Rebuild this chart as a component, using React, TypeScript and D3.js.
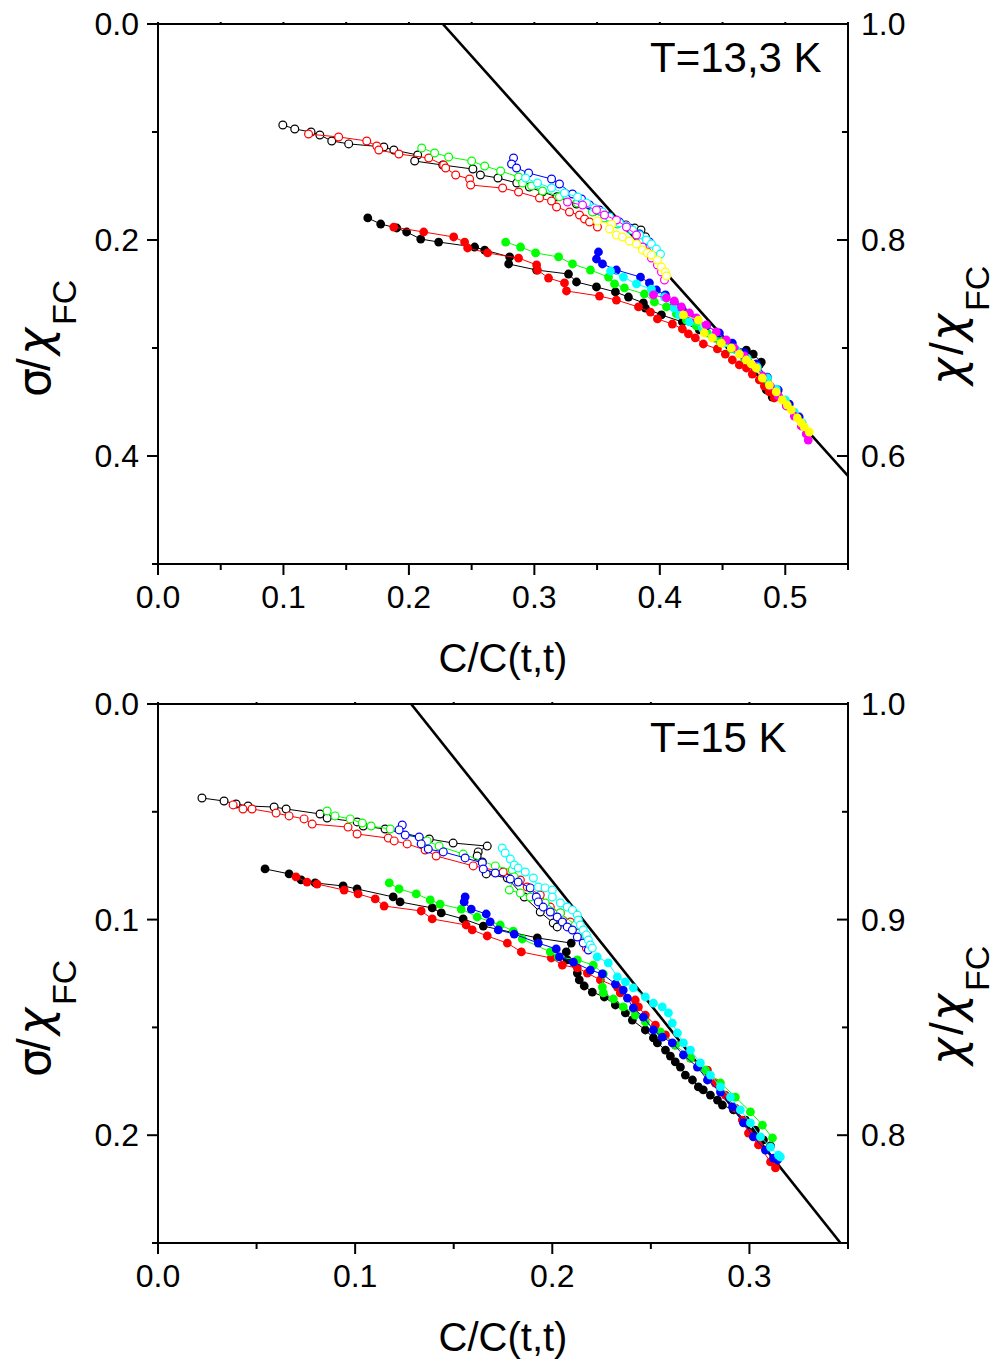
import React from 'react';
import * as d3 from 'd3';

type Pt = [number, number];

// ---------- Top panel (T=13,3 K) ----------
const topOpenBlack: Pt[] = [[0.0995,0.0935],[0.109,0.0972],[0.122,0.100],[0.129,0.1028],[0.1385,0.1083],[0.152,0.111],[0.180,0.1139],[0.188,0.1167],[0.207,0.1213],[0.2046,0.1269],[0.227,0.1306],[0.251,0.1343],[0.257,0.1398],[0.271,0.1426],[0.286,0.1472],[0.296,0.151],[0.3065,0.1556],[0.318,0.160],[0.3336,0.1667],[0.348,0.1731],[0.360,0.1778],[0.373,0.186],[0.380,0.189],[0.385,0.1907],[0.3885,0.197]];
const topOpenRed: Pt[] = [[0.120,0.1019],[0.144,0.1046],[0.1664,0.1083],[0.1744,0.113],[0.176,0.1167],[0.192,0.1204],[0.2158,0.1241],[0.2277,0.1306],[0.2293,0.1333],[0.2373,0.1398],[0.2484,0.1435],[0.2492,0.1491],[0.2747,0.1519],[0.2874,0.1556],[0.3041,0.1611],[0.3137,0.1639],[0.3177,0.1694],[0.328,0.1741],[0.336,0.1769],[0.340,0.1806],[0.344,0.1833],[0.3503,0.188]];
const topOpenGreen: Pt[] = [[0.2102,0.1148],[0.2205,0.1194],[0.2317,0.1231],[0.25,0.1269],[0.2604,0.1315],[0.2731,0.1361],[0.2874,0.1417],[0.2906,0.1472],[0.2978,0.15],[0.3065,0.1546],[0.320,0.160],[0.3344,0.1657],[0.3463,0.1741],[0.3559,0.1796],[0.3662,0.1852],[0.3758,0.1898],[0.3838,0.1944]];
const topOpenBlue: Pt[] = [[0.2834,0.1241],[0.2818,0.1296],[0.2858,0.1333],[0.2954,0.138],[0.3137,0.1435],[0.320,0.1481],[0.3304,0.1574],[0.3376,0.162],[0.344,0.1676],[0.3519,0.1722],[0.3599,0.1787],[0.3678,0.1833],[0.3758,0.1889],[0.3838,0.1944],[0.3917,0.2019]];
const topOpenCyan: Pt[] = [[0.293,0.1426],[0.3025,0.1472],[0.3137,0.1519],[0.324,0.1565],[0.3344,0.1602],[0.3416,0.1657],[0.3479,0.1704],[0.3543,0.1741],[0.3599,0.1787],[0.3678,0.1843],[0.3734,0.187],[0.3782,0.1907],[0.3838,0.1954],[0.3893,0.2],[0.3933,0.2037],[0.3973,0.2083],[0.4005,0.213]];
const topOpenMagenta: Pt[] = [[0.3264,0.1648],[0.3384,0.1676],[0.3495,0.1722],[0.3559,0.1769],[0.3654,0.1815],[0.3734,0.188],[0.3814,0.1954],[0.3861,0.2065],[0.3901,0.2111],[0.3933,0.2167],[0.3981,0.2231],[0.4013,0.2296],[0.4037,0.237]];
const topOpenYellow: Pt[] = [[0.3503,0.1824],[0.3615,0.1852],[0.3599,0.1898],[0.3654,0.1954],[0.3702,0.1972],[0.3758,0.2009],[0.3814,0.2037],[0.3861,0.2093],[0.3901,0.212],[0.3933,0.2139],[0.3981,0.2185],[0.4013,0.225],[0.4045,0.2296],[0.4053,0.2333]];

const topFilledBlack: Pt[] = [[0.1672,0.1796],[0.1775,0.1852],[0.1903,0.1889],[0.1982,0.1926],[0.2094,0.1991],[0.2237,0.2019],[0.2524,0.2065],[0.2604,0.2093],[0.2803,0.2157],[0.2795,0.2222],[0.3018,0.2278],[0.3272,0.2315],[0.3336,0.2389],[0.3495,0.2435],[0.3646,0.2481],[0.375,0.2528],[0.3869,0.2583],[0.3885,0.263],[0.4013,0.2694],[0.418,0.2759],[0.4315,0.2833],[0.4435,0.2907],[0.4554,0.2981],[0.469,0.3019],[0.4745,0.3056],[0.4809,0.313],[0.4793,0.3157],[0.4849,0.3389],[0.4896,0.3454]];
const topFilledRed: Pt[] = [[0.1879,0.188],[0.2118,0.1926],[0.2357,0.1972],[0.2444,0.2019],[0.2468,0.2074],[0.2627,0.212],[0.2874,0.2167],[0.3018,0.2231],[0.3025,0.2278],[0.3113,0.2352],[0.324,0.2398],[0.3256,0.2472],[0.3519,0.2519],[0.3654,0.2556],[0.383,0.262],[0.3925,0.2667],[0.3981,0.2731],[0.41,0.2778],[0.418,0.2824],[0.4228,0.287],[0.4283,0.2907],[0.4347,0.2963],[0.4459,0.3009],[0.4522,0.3056],[0.4578,0.3111],[0.4634,0.3157],[0.469,0.3185],[0.4737,0.3241],[0.4793,0.3296],[0.4833,0.3352],[0.4873,0.3407],[0.4912,0.3463]];
const topFilledGreen: Pt[] = [[0.2771,0.2019],[0.289,0.2065],[0.301,0.212],[0.3193,0.2157],[0.3304,0.2222],[0.3447,0.2278],[0.3591,0.2343],[0.3639,0.2407],[0.3718,0.2444],[0.3877,0.25],[0.3957,0.2574],[0.4053,0.262],[0.4132,0.2685],[0.4212,0.2741],[0.4291,0.2796],[0.4379,0.2861],[0.4475,0.2935],[0.457,0.3009],[0.4674,0.3093],[0.4769,0.3185],[0.4857,0.3296],[0.4936,0.3407],[0.5008,0.3509]];
const topFilledBlue: Pt[] = [[0.3511,0.2111],[0.3495,0.2176],[0.3543,0.2222],[0.3654,0.2278],[0.3846,0.2343],[0.3917,0.2398],[0.3973,0.2463],[0.4045,0.2509],[0.4116,0.2583],[0.418,0.2648],[0.426,0.2722],[0.4371,0.2796],[0.4475,0.2861],[0.4578,0.2954],[0.4674,0.3046],[0.4769,0.3148],[0.4857,0.3269],[0.4944,0.3389],[0.5032,0.3519],[0.5111,0.3639]];
const topFilledCyan: Pt[] = [[0.3607,0.2287],[0.371,0.2343],[0.3814,0.2407],[0.3933,0.2454],[0.4037,0.2528],[0.4116,0.263],[0.4156,0.2694],[0.4236,0.2759],[0.4339,0.2815],[0.4419,0.2898],[0.4514,0.2954],[0.461,0.3019],[0.4697,0.3093],[0.4777,0.3176],[0.4857,0.3278],[0.4928,0.338],[0.5,0.3481],[0.5072,0.3593],[0.5135,0.3694]];
const topFilledMagenta: Pt[] = [[0.3949,0.2509],[0.4053,0.2537],[0.4116,0.2565],[0.4172,0.262],[0.4236,0.2676],[0.4291,0.2722],[0.4371,0.2787],[0.4451,0.2852],[0.453,0.2926],[0.4594,0.3],[0.4674,0.3074],[0.4753,0.3167],[0.4817,0.3259],[0.4881,0.3352],[0.4944,0.3444],[0.5008,0.3537],[0.5072,0.363],[0.5127,0.3722],[0.5167,0.3796],[0.5183,0.3852]];
const topFilledYellow: Pt[] = [[0.4188,0.2694],[0.4307,0.2741],[0.4355,0.2861],[0.4419,0.2907],[0.449,0.2954],[0.457,0.3],[0.4634,0.3056],[0.469,0.3111],[0.4729,0.3148],[0.4769,0.3185],[0.4817,0.3278],[0.4873,0.3343],[0.4928,0.3407],[0.4976,0.3481],[0.5016,0.3528],[0.5048,0.3574],[0.5096,0.3648],[0.5127,0.3694],[0.5151,0.3731],[0.5191,0.3778]];

const topFdtLine: Pt[] = [[0.227,0],[0.55,0.4185]];

// ---------- Bottom panel (T=15 K) ----------
const botOpenBlack: Pt[] = [[0.0223,0.0436],[0.0335,0.045],[0.0396,0.0464],[0.0457,0.0473],[0.0589,0.0478],[0.065,0.0487],[0.0822,0.051],[0.0858,0.0529],[0.101,0.0547],[0.1041,0.0566],[0.1152,0.058],[0.1376,0.0626],[0.1497,0.0645],[0.167,0.0659],[0.1624,0.0686],[0.1619,0.0705],[0.1645,0.0733],[0.1665,0.0788],[0.1772,0.0807],[0.1858,0.0895],[0.1939,0.0965],[0.2005,0.1016],[0.2025,0.1034]];
const botOpenRed: Pt[] = [[0.0381,0.0468],[0.0431,0.0487],[0.0477,0.0487],[0.0599,0.0506],[0.0665,0.0519],[0.0741,0.0533],[0.0782,0.0557],[0.0964,0.0571],[0.101,0.0603],[0.1168,0.0622],[0.1198,0.0635],[0.1264,0.0649],[0.1355,0.0677],[0.1411,0.0705],[0.1599,0.0751],[0.1751,0.0779],[0.1838,0.0816],[0.1873,0.0849],[0.1939,0.0886],[0.199,0.0942],[0.2041,0.0969],[0.2091,0.1011],[0.2132,0.1062],[0.2157,0.1095],[0.2173,0.1132]];
const botOpenGreen: Pt[] = [[0.0858,0.0496],[0.0898,0.0519],[0.0975,0.0533],[0.1036,0.0552],[0.1081,0.0566],[0.1178,0.058],[0.1365,0.0635],[0.1426,0.0659],[0.1548,0.0696],[0.1711,0.0751],[0.1797,0.077],[0.1807,0.0802],[0.1782,0.0863],[0.1838,0.0877],[0.1888,0.0895],[0.1964,0.0923],[0.2041,0.0969],[0.2117,0.1025],[0.2168,0.1071]];
const botOpenBlue: Pt[] = [[0.1239,0.0561],[0.1223,0.0584],[0.1254,0.0608],[0.1325,0.0617],[0.1335,0.0649],[0.1371,0.0673],[0.1447,0.0686],[0.1558,0.0714],[0.1645,0.0737],[0.165,0.0765],[0.1711,0.0784],[0.1787,0.0812],[0.1827,0.0826],[0.1888,0.0853],[0.1919,0.0895],[0.1929,0.0918],[0.1954,0.0942],[0.199,0.0965],[0.2025,0.0988],[0.2051,0.1011],[0.2076,0.1034],[0.2102,0.1048],[0.2127,0.1081],[0.2157,0.1109],[0.2183,0.1141]];
const botOpenCyan: Pt[] = [[0.1746,0.0668],[0.1761,0.0691],[0.1787,0.0719],[0.1807,0.0747],[0.1827,0.0761],[0.1863,0.0779],[0.1904,0.0807],[0.1929,0.0849],[0.1964,0.0853],[0.2,0.0863],[0.2,0.0895],[0.2041,0.0923],[0.2076,0.0942],[0.2102,0.0955],[0.2127,0.0979],[0.2132,0.1002],[0.2142,0.1025],[0.2157,0.1048],[0.2173,0.1071],[0.2183,0.1095],[0.2193,0.1118],[0.2203,0.1132]];

const botFilledBlack: Pt[] = [[0.0543,0.0765],[0.0665,0.0788],[0.0726,0.0816],[0.0797,0.083],[0.0939,0.0844],[0.101,0.0858],[0.1193,0.0895],[0.1228,0.0918],[0.1391,0.0946],[0.1437,0.0969],[0.1548,0.0997],[0.165,0.103],[0.1924,0.1085],[0.2096,0.1109],[0.2071,0.115],[0.2076,0.1187],[0.2127,0.1248],[0.2137,0.128],[0.2162,0.1308],[0.2203,0.1336],[0.2264,0.1359],[0.232,0.1396],[0.2371,0.1433],[0.2406,0.1466],[0.2472,0.1512],[0.2513,0.1549],[0.2533,0.1572],[0.2574,0.1605],[0.2599,0.1633],[0.2624,0.166],[0.265,0.1684],[0.2675,0.1721],[0.2711,0.1744],[0.2741,0.1776],[0.2766,0.179],[0.2802,0.1814],[0.2838,0.1837],[0.2863,0.186],[0.2919,0.1883],[0.298,0.193],[0.303,0.1976],[0.3071,0.2022],[0.3107,0.205]];
const botFilledRed: Pt[] = [[0.07,0.0802],[0.0756,0.0826],[0.0807,0.0835],[0.0944,0.0863],[0.1015,0.0881],[0.1102,0.0904],[0.1147,0.0937],[0.1335,0.096],[0.1391,0.0997],[0.1563,0.1025],[0.1594,0.1048],[0.167,0.1076],[0.1772,0.1109],[0.1843,0.115],[0.1995,0.1178],[0.2051,0.1211],[0.2127,0.1224],[0.2178,0.1248],[0.2244,0.128],[0.233,0.1313],[0.2345,0.134],[0.2421,0.1373],[0.2437,0.1405],[0.2472,0.1443],[0.2523,0.1489],[0.2574,0.1535],[0.2624,0.1582],[0.2701,0.1642],[0.2787,0.1698],[0.2827,0.1758],[0.2878,0.1814],[0.2929,0.1874],[0.2964,0.193],[0.2995,0.199],[0.3046,0.2045],[0.3107,0.2124],[0.3132,0.2152]];
const botFilledGreen: Pt[] = [[0.1173,0.083],[0.1223,0.0858],[0.131,0.0881],[0.1381,0.0909],[0.1431,0.0928],[0.1538,0.0951],[0.1619,0.0988],[0.1736,0.1025],[0.1802,0.1053],[0.1848,0.109],[0.199,0.115],[0.203,0.1173],[0.2127,0.1187],[0.2208,0.1211],[0.2259,0.1252],[0.2254,0.1313],[0.2259,0.134],[0.231,0.1368],[0.236,0.1405],[0.2421,0.1443],[0.2472,0.1475],[0.2548,0.1521],[0.2624,0.1582],[0.2701,0.1642],[0.2777,0.1698],[0.2853,0.1758],[0.2929,0.1823],[0.3005,0.1892],[0.3066,0.1953],[0.3117,0.2013]];
const botFilledBlue: Pt[] = [[0.1558,0.0895],[0.1553,0.0918],[0.1589,0.0951],[0.1665,0.0974],[0.1685,0.1011],[0.1726,0.1048],[0.1807,0.1067],[0.1929,0.1109],[0.202,0.1136],[0.2036,0.1173],[0.2107,0.1197],[0.2193,0.1234],[0.2254,0.1252],[0.232,0.1299],[0.236,0.1327],[0.2381,0.1364],[0.2411,0.141],[0.2462,0.1452],[0.2513,0.1512],[0.2558,0.1545],[0.2609,0.1572],[0.2665,0.1628],[0.2736,0.1684],[0.2787,0.1744],[0.2853,0.18],[0.2914,0.1869],[0.297,0.1943],[0.302,0.2008],[0.3081,0.2069],[0.3122,0.2106],[0.3142,0.2115]];
const botFilledCyan: Pt[] = [[0.2228,0.1173],[0.2284,0.1201],[0.233,0.1266],[0.2371,0.1289],[0.2411,0.1317],[0.2472,0.1359],[0.2513,0.1387],[0.2558,0.1405],[0.2589,0.1433],[0.2609,0.148],[0.2635,0.1526],[0.2665,0.1572],[0.2701,0.1605],[0.2751,0.1665],[0.2802,0.1721],[0.2853,0.1776],[0.2904,0.1823],[0.2954,0.1883],[0.3005,0.1943],[0.3056,0.2008],[0.3107,0.2055],[0.3147,0.2092],[0.3157,0.2101]];

const botFdtLine: Pt[] = [[0.1284,0],[0.3462,0.25]];

// ---------- ticks & labels ----------
const topXMajor = [0, 0.1, 0.2, 0.3, 0.4, 0.5];
const topXMinor = [0.05, 0.15, 0.25, 0.35, 0.45, 0.55];
const topYMajor = [0, 0.2, 0.4];
const topYMinor = [0.1, 0.3, 0.5];
const topRMajor = [1.0, 0.8, 0.6];
const topRMinor = [0.9, 0.7, 0.5];
const botXMajor = [0, 0.1, 0.2, 0.3];
const botXMinor = [0.05, 0.15, 0.25, 0.35];
const botYMajor = [0, 0.1, 0.2];
const botYMinor = [0.05, 0.15, 0.25];
const botRMajor = [1.0, 0.9, 0.8];
const botRMinor = [0.95, 0.85, 0.75];

const topLabel = 'T=13,3 K';
const botLabel = 'T=15 K';
const xTitle = 'C/C(t,t)';

const C = { black: '#000000', red: '#ff0000', green: '#00ff00', blue: '#0000ff', cyan: '#00ffff', magenta: '#ff00ff', yellow: '#ffff00' };

const topSeries = [
  { d: topOpenBlack, c: C.black, f: false }, { d: topOpenRed, c: C.red, f: false },
  { d: topOpenGreen, c: C.green, f: false }, { d: topOpenBlue, c: C.blue, f: false },
  { d: topOpenCyan, c: C.cyan, f: false }, { d: topOpenMagenta, c: C.magenta, f: false },
  { d: topOpenYellow, c: C.yellow, f: false },
  { d: topFilledBlack, c: C.black, f: true }, { d: topFilledRed, c: C.red, f: true },
  { d: topFilledGreen, c: C.green, f: true }, { d: topFilledBlue, c: C.blue, f: true },
  { d: topFilledCyan, c: C.cyan, f: true }, { d: topFilledMagenta, c: C.magenta, f: true },
  { d: topFilledYellow, c: C.yellow, f: true },
];
const botSeries = [
  { d: botOpenBlack, c: C.black, f: false }, { d: botOpenRed, c: C.red, f: false },
  { d: botOpenGreen, c: C.green, f: false }, { d: botOpenBlue, c: C.blue, f: false },
  { d: botOpenCyan, c: C.cyan, f: false },
  { d: botFilledBlack, c: C.black, f: true }, { d: botFilledRed, c: C.red, f: true },
  { d: botFilledGreen, c: C.green, f: true }, { d: botFilledBlue, c: C.blue, f: true },
  { d: botFilledCyan, c: C.cyan, f: true },
];

const FONT = '"Liberation Sans", Arial, Helvetica, sans-serif';
const GREEK = '"DejaVu Sans", "Liberation Sans", sans-serif';
const fmt = d3.format('.1f');

type PanelCfg = {
  top: number; bottom: number; left: number; right: number;
  xDom: [number, number]; yDom: [number, number]; rDom: [number, number];
  xMajor: number[]; xMinor: number[]; yMajor: number[]; yMinor: number[];
  rMajor: number[]; rMinor: number[];
  series: { d: Pt[]; c: string; f: boolean }[];
  fdt: Pt[]; label: string;
};

function Panel({ cfg, id }: { cfg: PanelCfg; id: string }) {
  const x = d3.scaleLinear().domain(cfg.xDom).range([cfg.left, cfg.right]);
  const y = d3.scaleLinear().domain(cfg.yDom).range([cfg.top, cfg.bottom]);
  const r = d3.scaleLinear().domain(cfg.rDom).range([cfg.top, cfg.bottom]);
  const line = d3.line<Pt>().x((p) => x(p[0])).y((p) => y(p[1]));
  const MAJ = 11, MIN = 6, AW = 2;
  const tickFs = 32;
  return (
    <g>
      <defs>
        <clipPath id={id}>
          <rect x={cfg.left} y={cfg.top} width={cfg.right - cfg.left} height={cfg.bottom - cfg.top} />
        </clipPath>
      </defs>
      <g clipPath={`url(#${id})`}>
        <path d={line(cfg.fdt) || ''} stroke="#000" strokeWidth={2.6} fill="none" />
        {cfg.series.map((s, i) => (
          <g key={i}>
            <path d={line(s.d) || ''} stroke={s.c} strokeWidth={1} fill="none" />
            {s.d.map((p, j) => (
              <circle key={j} cx={x(p[0])} cy={y(p[1])} r={s.f ? 4.4 : 3.9}
                fill={s.f ? s.c : '#ffffff'} stroke={s.c} strokeWidth={s.f ? 0 : 1.2} />
            ))}
          </g>
        ))}
      </g>
      <g stroke="#000" strokeWidth={AW} strokeLinecap="square">
        <line x1={cfg.left} x2={cfg.right} y1={cfg.top} y2={cfg.top} />
        <line x1={cfg.left} x2={cfg.right} y1={cfg.bottom} y2={cfg.bottom} />
        <line x1={cfg.left} x2={cfg.left} y1={cfg.top} y2={cfg.bottom} />
        <line x1={cfg.right} x2={cfg.right} y1={cfg.top} y2={cfg.bottom} />
      </g>
      <g stroke="#000" strokeWidth={AW}>
        {cfg.xMajor.map((v) => <line key={'xM' + v} x1={x(v)} x2={x(v)} y1={cfg.bottom} y2={cfg.bottom + MAJ} />)}
        {cfg.xMinor.map((v) => <line key={'xm' + v} x1={x(v)} x2={x(v)} y1={cfg.bottom} y2={cfg.bottom + MIN} />)}
        {cfg.xMajor.concat(cfg.xMinor).map((v) => <line key={'xt' + v} x1={x(v)} x2={x(v)} y1={cfg.top} y2={cfg.top - 2} />)}
        {cfg.yMajor.map((v) => <line key={'yM' + v} x1={cfg.left - MAJ} x2={cfg.left} y1={y(v)} y2={y(v)} />)}
        {cfg.yMinor.map((v) => <line key={'ym' + v} x1={cfg.left - MIN} x2={cfg.left} y1={y(v)} y2={y(v)} />)}
        {cfg.rMajor.map((v) => <line key={'rM' + v} x1={cfg.right - MAJ} x2={cfg.right} y1={r(v)} y2={r(v)} />)}
        {cfg.rMinor.map((v) => <line key={'rm' + v} x1={cfg.right - MIN} x2={cfg.right} y1={r(v)} y2={r(v)} />)}
      </g>
      <g fontFamily={FONT} fontSize={tickFs} fill="#000">
        {cfg.xMajor.map((v) => (
          <text key={'xl' + v} x={x(v)} y={cfg.bottom + 44} textAnchor="middle">{fmt(v)}</text>
        ))}
        {cfg.yMajor.map((v) => (
          <text key={'yl' + v} x={cfg.left - 19} y={y(v) + 11} textAnchor="end">{fmt(v)}</text>
        ))}
        {cfg.rMajor.map((v) => (
          <text key={'rl' + v} x={cfg.right + 13} y={r(v) + 11} textAnchor="start">{fmt(v)}</text>
        ))}
      </g>
      <text fontFamily={FONT} fontSize={40} x={(cfg.left + cfg.right) / 2} y={cfg.bottom + 108} textAnchor="middle">{xTitle}</text>
      <text fontFamily={FONT} fontSize={42} x={650} y={cfg.top + 48}>{cfg.label}</text>
      <text fontFamily={FONT} transform={`translate(50, ${cfg.top + 373}) rotate(-90)`}>
        <tspan x={0} y={0} fontSize={46} fontFamily={GREEK}>σ</tspan>
        <tspan x={26} y={0} fontSize={46}>/</tspan>
        <tspan x={42} y={0} fontSize={46} fontFamily={GREEK} fontStyle="italic">χ</tspan>
        <tspan x={72} y={26} fontSize={34}>FC</tspan>
      </text>
      <text fontFamily={FONT} transform={`translate(963, ${cfg.top + 361}) rotate(-90)`}>
        <tspan x={0} y={0} fontSize={46} fontFamily={GREEK} fontStyle="italic">χ</tspan>
        <tspan x={30} y={0} fontSize={46}>/</tspan>
        <tspan x={44} y={0} fontSize={46} fontFamily={GREEK} fontStyle="italic">χ</tspan>
        <tspan x={74} y={26} fontSize={34}>FC</tspan>
      </text>
    </g>
  );
}

export default function App() {
  const topCfg: PanelCfg = {
    top: 24, bottom: 564, left: 158, right: 848,
    xDom: [0, 0.55], yDom: [0, 0.5], rDom: [1.0, 0.5],
    xMajor: topXMajor, xMinor: topXMinor, yMajor: topYMajor, yMinor: topYMinor,
    rMajor: topRMajor, rMinor: topRMinor, series: topSeries, fdt: topFdtLine, label: topLabel,
  };
  const botCfg: PanelCfg = {
    top: 704, bottom: 1243, left: 158, right: 848,
    xDom: [0, 0.35], yDom: [0, 0.25], rDom: [1.0, 0.75],
    xMajor: botXMajor, xMinor: botXMinor, yMajor: botYMajor, yMinor: botYMinor,
    rMajor: botRMajor, rMinor: botRMinor, series: botSeries, fdt: botFdtLine, label: botLabel,
  };
  return (
    <div style={{ position: 'absolute', left: 0, top: 0 }}>
      <svg width={996} height={1362} viewBox="0 0 996 1362" style={{ display: 'block', background: '#fff' }}>
        <rect width={996} height={1362} fill="#fff" />
        <Panel cfg={topCfg} id="clipTop" />
        <Panel cfg={botCfg} id="clipBot" />
      </svg>
    </div>
  );
}
